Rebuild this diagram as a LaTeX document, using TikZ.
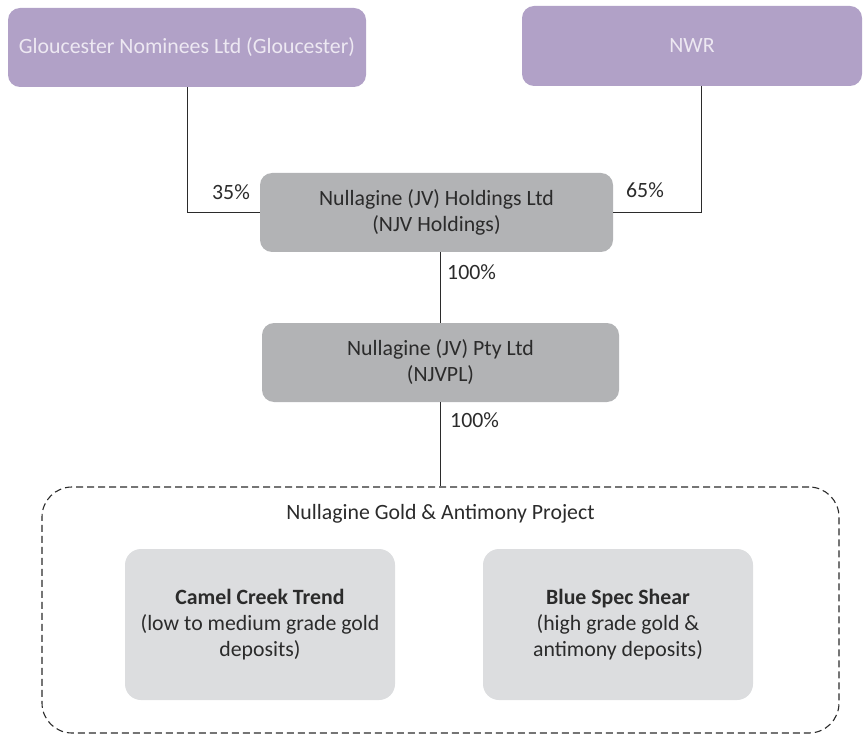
\documentclass[tikz,border=0pt]{standalone}
\usepackage{fontspec}
\setmainfont{Carlito}
\definecolor{purp}{HTML}{B1A1C7}
\definecolor{purptext}{HTML}{EDE8F2}
\definecolor{midgray}{HTML}{B2B3B5}
\definecolor{lightgray}{HTML}{DCDDDF}
\definecolor{txt}{HTML}{2B2B2B}
\begin{document}
\begin{tikzpicture}[x=1pt,y=-1pt,
  every node/.style={font=\fontsize{21.8}{26}\selectfont, text=txt},
  owner/.style={rectangle, rounded corners=12pt, fill=purp, text=purptext, align=center},
  entity/.style={rectangle, rounded corners=12pt, fill=midgray, align=center},
  deposit/.style={rectangle, rounded corners=16pt, fill=lightgray, align=center},
  project/.style={rectangle, rounded corners=30pt, draw=txt, line width=1.1pt, dash pattern=on 7pt off 4pt},
  link/.style={draw=txt, line width=1pt},
  pct/.style={inner sep=0pt}]
\useasboundingbox (0,0) rectangle (867,735);
\node[owner, minimum width=358pt, minimum height=79pt] (glo) at (187,47.5) {Gloucester Nominees Ltd (Gloucester)};
\node[owner, minimum width=340pt, minimum height=80pt] (nwr) at (692,46) {NWR};
\node[entity, minimum width=353pt, minimum height=79pt] (njv) at (436.5,212.5) {Nullagine (JV) Holdings Ltd\\(NJV Holdings)};
\node[entity, minimum width=357pt, minimum height=79pt] (njvpl) at (440.5,362.5) {Nullagine (JV) Pty Ltd\\(NJVPL)};
\node[project, minimum width=797pt, minimum height=246pt] (proj) at (440.5,610) {};
\node (projtitle) at (440.5,514) {Nullagine Gold \& Antimony Project};
\node[deposit, minimum width=270pt, minimum height=151pt] (camel) at (260,624.5) {\textbf{Camel Creek Trend}\\(low to medium grade gold\\deposits)};
\node[deposit, minimum width=270pt, minimum height=151pt] (blue) at (618,624.5) {\textbf{Blue Spec Shear}\\(high grade gold \&\\antimony deposits)};
\draw[link] (glo.south) |- (njv.west);
\draw[link] ([xshift=9pt]nwr.south) |- (njv.east);
\draw[link] (njvpl.north |- njv.south) -- (njvpl.north);
\draw[link] (njvpl.south) -- (proj.north -| njvpl.south);
\node[pct] (p35) at (231,192) {35\%};
\node[pct] (p65) at (645,190) {65\%};
\node[pct, anchor=west] (p100a) at (447,272) {100\%};
\node[pct, anchor=west] (p100b) at (450,420) {100\%};
\end{tikzpicture}
\end{document}
